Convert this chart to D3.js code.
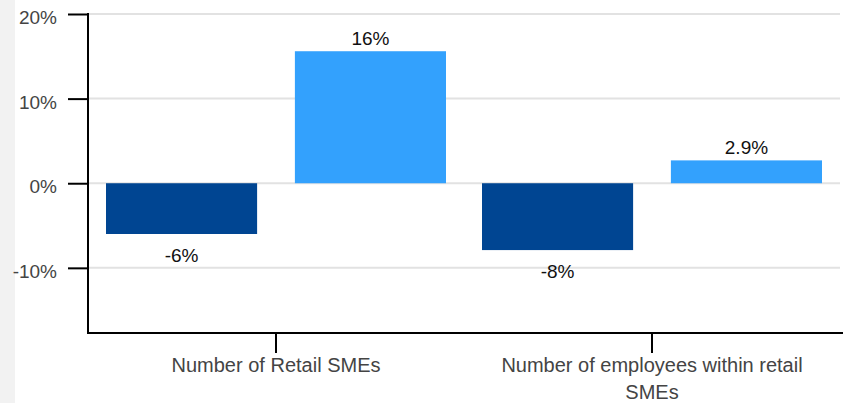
<!DOCTYPE html>
<html>
<head>
<meta charset="utf-8">
<script src="https://cdn.jsdelivr.net/npm/d3@7"></script>
<style>
  body { margin: 0; background: #fff; }
  svg { display: block; font-family: "Liberation Sans", Arial, sans-serif; }
</style>
</head>
<body>
<div id="chart"></div>
<script>
// Chart data
const categories = ['Number of Retail SMEs', 'Number of employees within retail SMEs']
const seriesNames = ['before', 'after']
const beforeValues = [-6.0, -7.9]
const afterValues = [15.6, 2.7]
const beforeLabels = ['-6%', '-8%']
const afterLabels = ['16%', '2.9%']
const yTicks = [-10, 0, 10, 20]

const width = 843,
  height = 403,
  marginLeft = 88,
  marginTop = 14,
  plotBottom = 333

const colors = { before: '#004592', after: '#33a1fd' }

const rows = categories.map((c, i) => ({
  cat: c,
  bars: [
    { key: 'before', value: beforeValues[i], label: beforeLabels[i] },
    { key: 'after', value: afterValues[i], label: afterLabels[i] }
  ]
}))

let svg = d3.select('#chart')
  .append('svg')
  .attr('width', width)
  .attr('height', height)

// grey strip at the left edge
svg.append('rect')
  .attr('x', 0).attr('y', 0)
  .attr('width', 15).attr('height', height)
  .attr('fill', '#f2f2f2')

const x0 = d3.scaleBand()
  .domain(categories)
  .range([marginLeft, 840])

const x1 = d3.scaleBand()
  .domain(seriesNames)
  .range([18, x0.bandwidth() - 18])
  .paddingInner(0.2)

const y = d3.scaleLinear()
  .domain([-17.7, 20])
  .range([plotBottom, marginTop])

// gridlines
svg.append('g')
  .selectAll('line')
  .data(yTicks)
  .enter()
  .append('line')
  .attr('x1', marginLeft)
  .attr('x2', 840)
  .attr('y1', d => y(d))
  .attr('y2', d => y(d))
  .attr('stroke', '#e2e2e2')
  .attr('stroke-width', 2)

// bars
let groups = svg.selectAll('g.grp')
  .data(rows)
  .enter()
  .append('g')
  .attr('class', 'grp')
  .attr('transform', d => `translate(${x0(d.cat)},0)`)

groups.selectAll('rect')
  .data(d => d.bars)
  .enter()
  .append('rect')
  .attr('x', d => x1(d.key))
  .attr('y', d => y(Math.max(0, d.value)))
  .attr('width', x1.bandwidth())
  .attr('height', d => Math.abs(y(d.value) - y(0)))
  .attr('fill', d => colors[d.key])

groups.selectAll('text')
  .data(d => d.bars)
  .enter()
  .append('text')
  .attr('x', d => x1(d.key) + x1.bandwidth() / 2)
  .attr('y', d => d.value >= 0 ? y(d.value) - 6 : y(d.value) + 28)
  .attr('text-anchor', 'middle')
  .attr('font-size', 19)
  .attr('fill', '#111')
  .text(d => d.label)

// y axis
const yAxis = svg.append('g')
  .attr('transform', `translate(${marginLeft},0)`)
  .call(d3.axisLeft(y).tickValues(yTicks).tickSize(20).tickPadding(11)
    .tickFormat(d => d + '%'))
yAxis.select('.domain').remove()
yAxis.append('line')
  .attr('x1', 0).attr('x2', 0)
  .attr('y1', marginTop - 1).attr('y2', plotBottom + 1)
  .attr('stroke', '#000').attr('stroke-width', 2)
yAxis.selectAll('.tick line').attr('stroke', '#000').attr('stroke-width', 2)
yAxis.selectAll('.tick text')
  .attr('font-size', 19)
  .attr('dy', '0.5em')
  .attr('fill', '#444')
  .attr('font-family', '"Liberation Sans", Arial, sans-serif')

// x axis
const xAxis = svg.append('g')
  .attr('transform', `translate(0,${plotBottom})`)
  .call(d3.axisBottom(x0).tickSize(20).tickFormat(''))
xAxis.select('.domain').remove()
xAxis.append('line')
  .attr('x1', marginLeft - 1).attr('x2', width)
  .attr('y1', 0).attr('y2', 0)
  .attr('stroke', '#000').attr('stroke-width', 2)
xAxis.selectAll('.tick line').attr('stroke', '#000').attr('stroke-width', 2)

// wrapped category labels
const wrapLines = { 'Number of Retail SMEs': ['Number of Retail SMEs'],
  'Number of employees within retail SMEs': ['Number of employees within retail', 'SMEs'] }
categories.forEach(c => {
  const t = svg.append('text')
    .attr('text-anchor', 'middle')
    .attr('font-size', 20)
    .attr('fill', '#444')
  wrapLines[c].forEach((line, i) => {
    t.append('tspan')
      .attr('x', x0(c) + x0.bandwidth() / 2)
      .attr('y', 372 + i * 27)
      .text(line)
  })
})
</script>
</body>
</html>
